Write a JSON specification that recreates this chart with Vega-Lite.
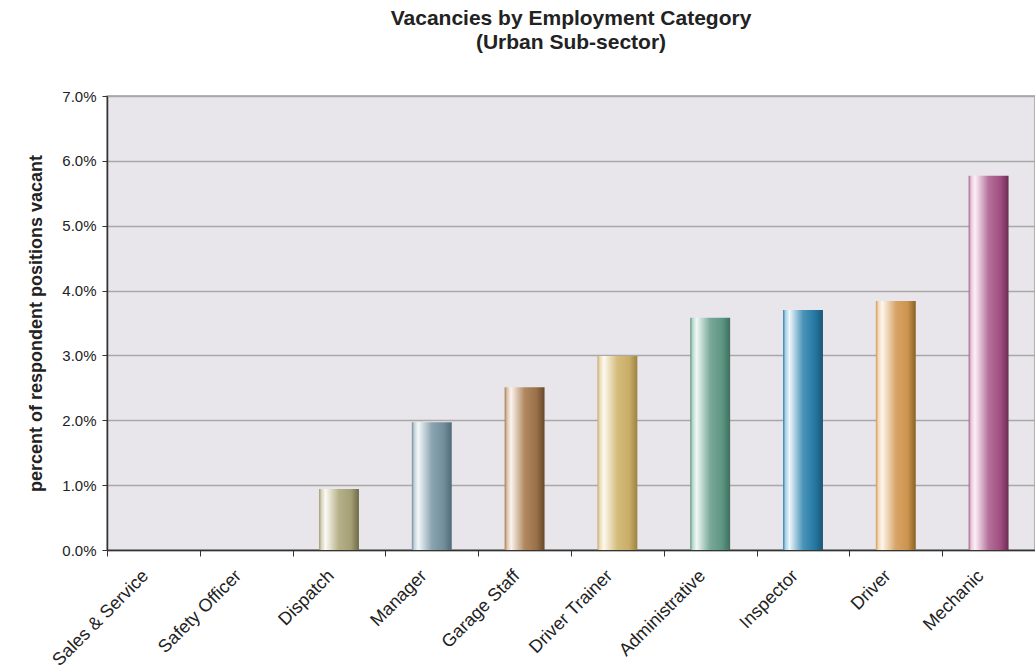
{
  "$schema": "https://vega.github.io/schema/vega-lite/v6.json",
  "width": 928,
  "height": 454,
  "autosize": {"type": "none"},
  "padding": {"left": 107, "top": 96, "right": 0, "bottom": 121},
  "background": "white",
  "title": {
    "text": ["Vacancies by Employment Category", "(Urban Sub-sector)"],
    "font": "Liberation Sans",
    "fontSize": 21,
    "fontWeight": "bold",
    "color": "#222222",
    "anchor": "middle",
    "offset": 36,
    "lineHeight": 24
  },
  "config": {
    "view": {"fill": "#e8e6ea", "stroke": "#a0a0a0", "strokeWidth": 1.5},
    "axis": {"labelFont": "Liberation Sans", "titleFont": "Liberation Sans", "labelColor": "#222222", "titleColor": "#222222"}
  },
  "data": {
    "values": [
      {"category": "Sales & Service", "value": 0},
      {"category": "Safety Officer", "value": 0},
      {"category": "Dispatch", "value": 0.0094},
      {"category": "Manager", "value": 0.0197},
      {"category": "Garage Staff", "value": 0.0251},
      {"category": "Driver Trainer", "value": 0.0299},
      {"category": "Administrative", "value": 0.0358},
      {"category": "Inspector", "value": 0.0370},
      {"category": "Driver", "value": 0.0384},
      {"category": "Mechanic", "value": 0.0577}
    ]
  },
  "encoding": {
    "x": {
      "field": "category",
      "type": "nominal",
      "sort": null,
      "scale": {"domain": ["Sales & Service", "Safety Officer", "Dispatch", "Manager", "Garage Staff", "Driver Trainer", "Administrative", "Inspector", "Driver", "Mechanic"], "paddingInner": 0, "paddingOuter": 0},
      "axis": {
        "title": null,
        "labelAngle": -45,
        "labelAlign": "right",
        "labelBaseline": "middle",
        "labelFontSize": 18,
        "labelPadding": 17,
        "labelOffset": -8,
        "labelBound": false,
        "tickBand": "extent",
        "tickSize": 6,
        "tickColor": "#333333",
        "domainColor": "#333333",
        "domainWidth": 1.5
      }
    },
    "y": {
      "field": "value",
      "type": "quantitative",
      "scale": {"domain": [0, 0.07], "nice": false},
      "axis": {
        "title": "percent of respondent positions vacant",
        "titleFontSize": 18,
        "titleFontWeight": "bold",
        "titlePadding": 16,
        "format": ".1%",
        "values": [0, 0.01, 0.02, 0.03, 0.04, 0.05, 0.06, 0.07],
        "labelFontSize": 15,
        "labelPadding": 6,
        "tickSize": 5,
        "tickColor": "#333333",
        "domainColor": "#333333",
        "domainWidth": 1.5,
        "gridColor": "#a8a8a8",
        "gridWidth": 1.5
      }
    }
  },
  "layer": [
    {"transform": [{"filter": "datum.category == 'Dispatch'"}],
     "mark": {"type": "bar", "width": {"band": 0.43}, "color": {"gradient": "linear", "x1": 0, "y1": 0, "x2": 1, "y2": 0, "stops": [{"offset": 0, "color": "#a09a70"}, {"offset": 0.06, "color": "#d8d4bc"}, {"offset": 0.16, "color": "#fbfaf4"}, {"offset": 0.5, "color": "#b6b088"}, {"offset": 0.8, "color": "#a59f76"}, {"offset": 1, "color": "#6f6a48"}]}}},
    {"transform": [{"filter": "datum.category == 'Manager'"}],
     "mark": {"type": "bar", "width": {"band": 0.43}, "color": {"gradient": "linear", "x1": 0, "y1": 0, "x2": 1, "y2": 0, "stops": [{"offset": 0, "color": "#6d8d9a"}, {"offset": 0.06, "color": "#c4d2d8"}, {"offset": 0.16, "color": "#f4f8fa"}, {"offset": 0.5, "color": "#8aa4b0"}, {"offset": 0.8, "color": "#718e9a"}, {"offset": 1, "color": "#4f6b78"}]}}},
    {"transform": [{"filter": "datum.category == 'Garage Staff'"}],
     "mark": {"type": "bar", "width": {"band": 0.43}, "color": {"gradient": "linear", "x1": 0, "y1": 0, "x2": 1, "y2": 0, "stops": [{"offset": 0, "color": "#a47a50"}, {"offset": 0.06, "color": "#dcc4ac"}, {"offset": 0.16, "color": "#fbf4ee"}, {"offset": 0.5, "color": "#b08860"}, {"offset": 0.8, "color": "#9a7048"}, {"offset": 1, "color": "#66482c"}]}}},
    {"transform": [{"filter": "datum.category == 'Driver Trainer'"}],
     "mark": {"type": "bar", "width": {"band": 0.43}, "color": {"gradient": "linear", "x1": 0, "y1": 0, "x2": 1, "y2": 0, "stops": [{"offset": 0, "color": "#c4aa68"}, {"offset": 0.06, "color": "#eadcb8"}, {"offset": 0.16, "color": "#fdf9ee"}, {"offset": 0.5, "color": "#d4bc7c"}, {"offset": 0.8, "color": "#c8ad66"}, {"offset": 1, "color": "#9c8244"}]}}},
    {"transform": [{"filter": "datum.category == 'Administrative'"}],
     "mark": {"type": "bar", "width": {"band": 0.43}, "color": {"gradient": "linear", "x1": 0, "y1": 0, "x2": 1, "y2": 0, "stops": [{"offset": 0, "color": "#5c9480"}, {"offset": 0.06, "color": "#bcd8ce"}, {"offset": 0.16, "color": "#f0f8f5"}, {"offset": 0.5, "color": "#78a898"}, {"offset": 0.8, "color": "#5e9682"}, {"offset": 1, "color": "#406e5e"}]}}},
    {"transform": [{"filter": "datum.category == 'Inspector'"}],
     "mark": {"type": "bar", "width": {"band": 0.43}, "color": {"gradient": "linear", "x1": 0, "y1": 0, "x2": 1, "y2": 0, "stops": [{"offset": 0, "color": "#2a80aa"}, {"offset": 0.06, "color": "#a8d0e4"}, {"offset": 0.16, "color": "#eef7fb"}, {"offset": 0.5, "color": "#4a94b8"}, {"offset": 0.8, "color": "#2478a2"}, {"offset": 1, "color": "#1a5676"}]}}},
    {"transform": [{"filter": "datum.category == 'Driver'"}],
     "mark": {"type": "bar", "width": {"band": 0.43}, "color": {"gradient": "linear", "x1": 0, "y1": 0, "x2": 1, "y2": 0, "stops": [{"offset": 0, "color": "#d09650"}, {"offset": 0.06, "color": "#f0d8b8"}, {"offset": 0.16, "color": "#fdf6ec"}, {"offset": 0.5, "color": "#d8a468"}, {"offset": 0.8, "color": "#cc944c"}, {"offset": 1, "color": "#8a6028"}]}}},
    {"transform": [{"filter": "datum.category == 'Mechanic'"}],
     "mark": {"type": "bar", "width": {"band": 0.43}, "color": {"gradient": "linear", "x1": 0, "y1": 0, "x2": 1, "y2": 0, "stops": [{"offset": 0, "color": "#a85888"}, {"offset": 0.06, "color": "#e8c8dc"}, {"offset": 0.16, "color": "#fbf0f6"}, {"offset": 0.5, "color": "#b4709a"}, {"offset": 0.8, "color": "#a04e80"}, {"offset": 1, "color": "#6a2c52"}]}}}
  ]
}
